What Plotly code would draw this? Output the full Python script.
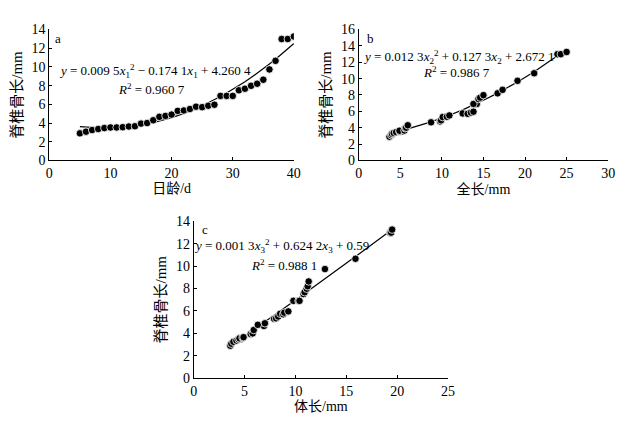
import plotly.graph_objects as go

# spine length (mm) for fish aged 5..40 days
age_days = list(range(5, 41))
spine_len = [2.90, 3.08, 3.25, 3.36, 3.46, 3.53, 3.53, 3.56, 3.63, 3.66,
             3.94, 4.00, 4.30, 4.66, 4.76, 4.90, 5.30, 5.34, 5.50, 5.75,
             5.70, 5.85, 5.96, 6.90, 6.90, 6.90, 7.50, 7.67, 7.98, 8.20,
             8.63, 9.73, 10.65, 12.98, 12.98, 13.25]
total_len = [3.7, 3.9, 4.0, 4.2, 4.5, 4.9, 5.0, 5.3, 4.9, 5.5,
             5.6, 5.7, 5.9, 8.7, 9.8, 9.9, 10.1, 10.6, 10.9, 12.5,
             13.1, 13.5, 13.8, 14.0, 14.2, 13.8, 14.4, 14.6, 15.0, 16.7,
             17.3, 19.1, 21.1, 23.9, 24.3, 25.0]
body_len = [3.6, 3.7, 3.9, 4.2, 4.4, 4.6, 4.7, 4.5, 4.8, 4.9,
            5.6, 5.8, 5.9, 6.9, 6.3, 7.0, 7.9, 8.1, 8.3, 8.5,
            8.8, 8.9, 9.3, 9.8, 10.3, 10.4, 10.8, 10.9, 11.1, 11.2,
            11.3, 12.9, 15.9, 19.3, 19.4, 19.5]

# fitted quadratic coefficients (a2, a1, a0) as printed on the chart
coef_a = (0.0095, -0.1741, 4.2604)
coef_b = (0.0123, 0.1273, 2.6721)
coef_c = (0.0013, 0.6242, 0.59)

SERIF = "Liberation Serif, Times New Roman, Noto Sans CJK SC"


def poly(c, xs):
    return [c[0] * v * v + c[1] * v + c[2] for v in xs]


fig = go.Figure()

panels = [
    ("x", "y", age_days, coef_a),
    ("x2", "y2", total_len, coef_b),
    ("x3", "y3", body_len, coef_c),
]
for xa, ya, xs, coef in panels:
    xs_sorted = sorted(xs)
    fig.add_trace(go.Scatter(x=xs_sorted, y=poly(coef, xs_sorted), mode="lines",
                             line=dict(color="black", width=1.2),
                             xaxis=xa, yaxis=ya, showlegend=False, hoverinfo="skip"))
    fig.add_trace(go.Scatter(x=xs, y=spine_len, mode="markers",
                             marker=dict(color="black", size=7.5,
                                         line=dict(color="white", width=0.8)),
                             xaxis=xa, yaxis=ya, showlegend=False))

axis_common = dict(showline=True, linecolor="black", linewidth=1, ticks="inside",
                   ticklen=3, tickcolor="black", showgrid=False, zeroline=False,
                   tickfont=dict(family=SERIF, size=14, color="black"), mirror=False)
xt_font = dict(family=SERIF, size=14, color="black")
yt_font = dict(family=SERIF, size=15, color="black")

# page body keeps an 8px margin, so the figure is 16px smaller than the window
fig.update_layout(
    width=616, height=411,
    margin=dict(l=0, r=0, t=0, b=0),
    paper_bgcolor="white", plot_bgcolor="white",
    font=dict(family=SERIF, color="black"),
    xaxis=dict(domain=[0.0617, 0.4659], range=[0, 40], dtick=10, anchor="y",
               title=dict(text="日龄/d", standoff=2, font=xt_font), **axis_common),
    yaxis=dict(domain=[0.6326, 0.9635], range=[0, 14], dtick=2, anchor="x",
               title=dict(text="脊椎骨长/mm", standoff=5, font=yt_font), **axis_common),
    xaxis2=dict(domain=[0.5731, 0.9854], range=[0, 30], dtick=5, anchor="y2",
                title=dict(text="全长/mm", standoff=2, font=xt_font), **axis_common),
    yaxis2=dict(domain=[0.6326, 0.9635], range=[0, 16], dtick=2, anchor="x2",
                title=dict(text="脊椎骨长/mm", standoff=5, font=yt_font), **axis_common),
    xaxis3=dict(domain=[0.3003, 0.7208], range=[0, 25], dtick=5, anchor="y3",
                title=dict(text="体长/mm", standoff=2, font=xt_font), **axis_common),
    yaxis3=dict(domain=[0.0827, 0.4793], range=[0, 14], dtick=2, anchor="x3",
                title=dict(text="脊椎骨长/mm", standoff=5, font=yt_font), **axis_common),
)

txt_font = dict(family=SERIF, size=13, color="black")
notes = [
    ("x", "y", 1.4, 13.0, "a"),
    ("x", "y", 17.3, 9.6,
     "<i>y</i> = 0.009 5<i>x</i><sub>1</sub><sup>2</sup> − 0.174 1<i>x</i><sub>1</sub> + 4.260 4"),
    ("x", "y", 16.7, 7.6, "<i>R</i><sup>2</sup> = 0.960 7"),
    ("x2", "y2", 1.4, 14.9, "b"),
    ("x2", "y2", 12.0, 12.6,
     "<i>y</i> = 0.012 3<i>x</i><sub>2</sub><sup>2</sup> + 0.127 3<i>x</i><sub>2</sub> + 2.672 1"),
    ("x2", "y2", 11.7, 10.8, "<i>R</i><sup>2</sup> = 0.986 7"),
    ("x3", "y3", 1.1, 13.3, "c"),
    ("x3", "y3", 8.6, 11.8,
     "<i>y</i> = 0.001 3<i>x</i><sub>3</sub><sup>2</sup> + 0.624 2<i>x</i><sub>3</sub> + 0.59"),
    ("x3", "y3", 8.9, 10.1, "<i>R</i><sup>2</sup> = 0.988 1"),
]
for xr, yr, xv, yv, t in notes:
    fig.add_annotation(x=xv, y=yv, xref=xr, yref=yr, text=t, showarrow=False,
                       font=txt_font, xanchor="center", yanchor="middle")

fig.write_html("out.html")
